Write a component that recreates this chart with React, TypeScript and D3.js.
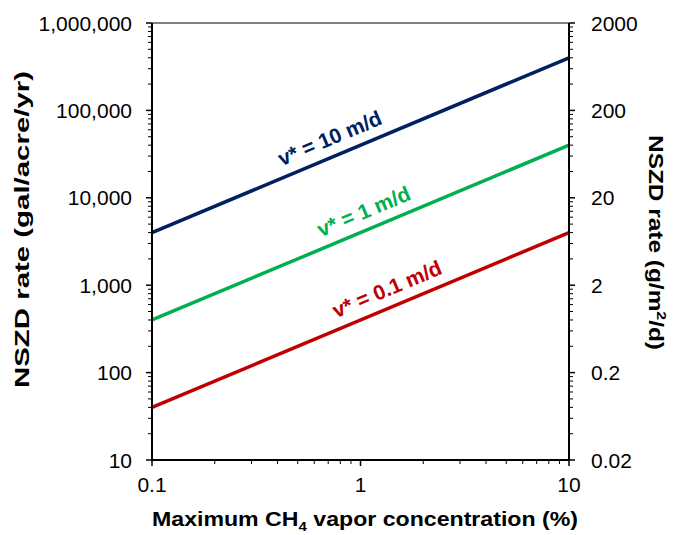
import React from "react";
import * as d3 from "d3";

const concentrations = [0.1, 10];
const seriesNames = ["v* = 10 m/d", "v* = 1 m/d", "v* = 0.1 m/d"];
const seriesStart = [4000, 400, 40];
const seriesEnd = [400000, 40000, 4000];
const seriesColors = ["#002060", "#00B050", "#C00000"];
const labelX = [0.77, 1.12, 1.45];
const leftTicks = [10, 100, 1000, 10000, 100000, 1000000];
const leftTickLabels = ["10", "100", "1,000", "10,000", "100,000", "1,000,000"];
const rightTicks = [0.02, 0.2, 2, 20, 200, 2000];
const rightTickLabels = ["0.02", "0.2", "2", "20", "200", "2000"];
const bottomTicks = [0.1, 1, 10];
const bottomTickLabels = ["0.1", "1", "10"];

const W = 673, H = 535;
const L = 152, R = 569, T = 23, B = 460;
const FONT = "'Liberation Sans', Arial, sans-serif";

export default function App() {
  const x = d3.scaleLog().domain([0.1, 10]).range([L, R]);
  const y = d3.scaleLog().domain([10, 1e6]).range([B, T]);
  const y2 = d3.scaleLog().domain([0.02, 2000]).range([B, T]);
  const line = d3.line<[number, number]>().x(d => x(d[0])).y(d => y(d[1]));

  const minor = (base: number[]) => {
    const out: number[] = [];
    base.slice(0, -1).forEach(b => { for (let k = 2; k <= 9; k++) out.push(b * k); });
    return out;
  };
  const leftMinor = minor(leftTicks);
  const rightMinor = minor(rightTicks);
  const bottomMinor = minor(bottomTicks);

  const angle = Math.atan2(y(seriesEnd[0]) - y(seriesStart[0]), x(10) - x(0.1)) * 180 / Math.PI;

  return (
    <svg width={W} height={H} style={{ position: "absolute", left: 0, top: 0, background: "#fff" }} fontFamily={FONT}>
      <rect x={0} y={0} width={W} height={H} fill="#fff" />
      <line x1={L} x2={R} y1={T} y2={T} stroke="#000" strokeWidth={1} />
      {seriesNames.map((n, i) => (
        <path key={n} d={line([[concentrations[0], seriesStart[i]], [concentrations[1], seriesEnd[i]]]) || ""}
          fill="none" stroke={seriesColors[i]} strokeWidth={3.5} />
      ))}
      {seriesNames.map((n, i) => {
        const lx = x(labelX[i]);
        const t = (Math.log10(labelX[i]) + 1) / 2;
        const ly = y(Math.pow(10, Math.log10(seriesStart[i]) + t * (Math.log10(seriesEnd[i]) - Math.log10(seriesStart[i]))));
        const off = 11;
        return (
          <text key={n} transform={`translate(${lx},${ly}) rotate(${angle}) translate(0,${-off})`}
            textAnchor="middle" fontSize={21} fontWeight="bold" fill={seriesColors[i]}>{n}</text>
        );
      })}
      <line x1={L} x2={L} y1={T} y2={B} stroke="#000" strokeWidth={2} />
      {leftTicks.map(v => <line key={v} x1={L - 6} x2={L} y1={y(v)} y2={y(v)} stroke="#000" strokeWidth={1.5} />)}
      {leftMinor.map(v => <line key={v} x1={L - 4} x2={L} y1={y(v)} y2={y(v)} stroke="#000" strokeWidth={1} />)}
      {leftTicks.map((v, i) => (
        <text key={v} x={L - 20} y={y(v)} dy="0.36em" textAnchor="end" fontSize={21} fill="#000">{leftTickLabels[i]}</text>
      ))}
      <line x1={R} x2={R} y1={T} y2={B} stroke="#000" strokeWidth={2} />
      {rightTicks.map(v => <line key={v} x1={R} x2={R + 6} y1={y2(v)} y2={y2(v)} stroke="#000" strokeWidth={1.5} />)}
      {rightMinor.map(v => <line key={v} x1={R} x2={R + 4} y1={y2(v)} y2={y2(v)} stroke="#000" strokeWidth={1} />)}
      {rightTicks.map((v, i) => (
        <text key={v} x={R + 22} y={y2(v)} dy="0.36em" textAnchor="start" fontSize={21} fill="#000">{rightTickLabels[i]}</text>
      ))}
      <line x1={L} x2={R} y1={B} y2={B} stroke="#000" strokeWidth={2} />
      {bottomTicks.map(v => <line key={v} x1={x(v)} x2={x(v)} y1={B} y2={B + 6} stroke="#000" strokeWidth={1.5} />)}
      {bottomMinor.map(v => <line key={v} x1={x(v)} x2={x(v)} y1={B} y2={B + 4} stroke="#000" strokeWidth={1} />)}
      {bottomTicks.map((v, i) => (
        <text key={v} x={x(v)} y={492} textAnchor="middle" fontSize={21} fill="#000">{bottomTickLabels[i]}</text>
      ))}
      <text x={365} y={526} textAnchor="middle" fontSize={20} fontWeight="bold" fill="#000"
        textLength={426} lengthAdjust="spacingAndGlyphs">
        Maximum CH<tspan fontSize={13} dy={5}>4</tspan><tspan dy={-5}> vapor concentration (%)</tspan>
      </text>
      <text transform="translate(29,229.5) rotate(-90)" textAnchor="middle" fontSize={20} fontWeight="bold" fill="#000"
        textLength={317} lengthAdjust="spacingAndGlyphs">NSZD rate (gal/acre/yr)</text>
      <text transform="translate(649,242.5) rotate(90)" textAnchor="middle" fontSize={20} fontWeight="bold" fill="#000"
        textLength={215} lengthAdjust="spacingAndGlyphs">
        NSZD rate  (g/m<tspan fontSize={13} dy={-8}>2</tspan><tspan dy={8}>/d)</tspan>
      </text>
    </svg>
  );
}
